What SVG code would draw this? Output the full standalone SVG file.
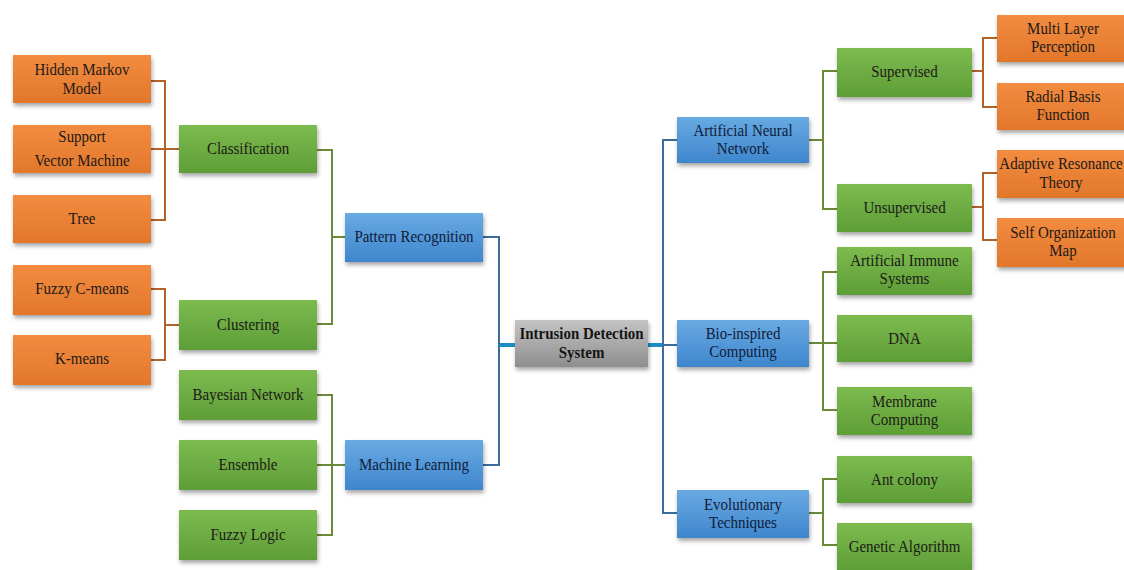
<svg xmlns="http://www.w3.org/2000/svg" width="1124" height="570" viewBox="0 0 1124 570">
<defs>
<linearGradient id="gO" x1="0" y1="0" x2="0" y2="1"><stop offset="0" stop-color="#F28C40"/><stop offset="1" stop-color="#E2772B"/></linearGradient>
<linearGradient id="gG" x1="0" y1="0" x2="0" y2="1"><stop offset="0" stop-color="#7DBB4F"/><stop offset="1" stop-color="#5E9E37"/></linearGradient>
<linearGradient id="gB" x1="0" y1="0" x2="0" y2="1"><stop offset="0" stop-color="#68AAE2"/><stop offset="1" stop-color="#3F86CD"/></linearGradient>
<linearGradient id="gS" x1="0" y1="0" x2="0" y2="1"><stop offset="0" stop-color="#C4C4C4"/><stop offset="1" stop-color="#8E8E8E"/></linearGradient>
<filter id="sh" x="-10%" y="-10%" width="125%" height="140%"><feDropShadow dx="1" dy="3" stdDeviation="2" flood-color="#000" flood-opacity="0.35"/></filter>
</defs>
<style>
.o{fill:url(#gO);filter:url(#sh)}
.g{fill:url(#gG);filter:url(#sh)}
.b{fill:url(#gB);filter:url(#sh)}
.s{fill:url(#gS);filter:url(#sh)}
.t text{font-size:17px;fill:#1c1a17;text-anchor:middle}
.t .bt{fill:#101c3a}
.t .bold{font-weight:bold;fill:#141414}
.co{fill:none;stroke:#B0622A;stroke-width:2}
.cg{fill:none;stroke:#6A8A3A;stroke-width:2}
.cb{fill:none;stroke:#3B6C9C;stroke-width:2}
.ct{fill:none;stroke:#1A8EC4;stroke-width:4}
</style>
<rect width="1124" height="570" fill="#fff"/>
<g id="connectors">
<path class="co" d="M151,81H165V220H151M151,149H179"/>
<path class="co" d="M151,289H165V360H151M165,325H179"/>
<path class="cg" d="M317,150H332V324H317M332,237H345"/>
<path class="cg" d="M317,395H332V535H317M317,465H345"/>
<path class="cb" d="M483,237H499V465H483"/>
<path class="ct" d="M499,345H515"/>
<path class="ct" d="M648,345H663"/>
<path class="cb" d="M677,140H663V513H677M663,345H677"/>
<path class="cg" d="M809,140H823M837,71H823V209H837"/>
<path class="cg" d="M809,343H837M837,272H823V410H837"/>
<path class="cg" d="M809,513H823M837,479H823V545H837"/>
<path class="co" d="M972,71H983M997,38H983V107H997"/>
<path class="co" d="M972,207H983M997,173H983V240H997"/>
</g>
<g class="t" font-family="'Liberation Serif', 'Times New Roman', 'DejaVu Serif', serif">
<g id="n-hmm"><rect class="o" x="13" y="55" width="138" height="48"/><text transform="translate(82 75) scale(0.88 1)">Hidden Markov</text><text transform="translate(82 94) scale(0.88 1)">Model</text></g>
<g id="n-svm"><rect class="o" x="13" y="125" width="138" height="48"/><text transform="translate(82 142) scale(0.88 1)">Support</text><text transform="translate(82 166) scale(0.88 1)">Vector Machine</text></g>
<g id="n-tree"><rect class="o" x="13" y="195" width="138" height="48"/><text transform="translate(82 224) scale(0.88 1)">Tree</text></g>
<g id="n-fcm"><rect class="o" x="13" y="265" width="138" height="50"/><text transform="translate(82 294) scale(0.88 1)">Fuzzy C-means</text></g>
<g id="n-km"><rect class="o" x="13" y="335" width="138" height="50"/><text transform="translate(82 364) scale(0.88 1)">K-means</text></g>
<g id="n-class"><rect class="g" x="179" y="125" width="138" height="48"/><text transform="translate(248 154) scale(0.88 1)">Classification</text></g>
<g id="n-clust"><rect class="g" x="179" y="300" width="138" height="50"/><text transform="translate(248 330) scale(0.88 1)">Clustering</text></g>
<g id="n-bayes"><rect class="g" x="179" y="370" width="138" height="50"/><text transform="translate(248 400) scale(0.88 1)">Bayesian Network</text></g>
<g id="n-ens"><rect class="g" x="179" y="440" width="138" height="50"/><text transform="translate(248 470) scale(0.88 1)">Ensemble</text></g>
<g id="n-fl"><rect class="g" x="179" y="510" width="138" height="50"/><text transform="translate(248 540) scale(0.88 1)">Fuzzy Logic</text></g>
<g id="n-pr"><rect class="b" x="345" y="213" width="138" height="49"/><text class="bt" transform="translate(414 242) scale(0.88 1)">Pattern Recognition</text></g>
<g id="n-ml"><rect class="b" x="345" y="440" width="138" height="50"/><text class="bt" transform="translate(414 470) scale(0.88 1)">Machine Learning</text></g>
<g id="n-ids"><rect class="s" x="515" y="320" width="133" height="47"/><text class="bold" transform="translate(581.5 339) scale(0.88 1)">Intrusion Detection</text><text class="bold" transform="translate(581.5 358) scale(0.88 1)">System</text></g>
<g id="n-ann"><rect class="b" x="677" y="117" width="132" height="46"/><text class="bt" transform="translate(743 136) scale(0.88 1)">Artificial Neural</text><text class="bt" transform="translate(743 154) scale(0.88 1)">Network</text></g>
<g id="n-bio"><rect class="b" x="677" y="320" width="132" height="47"/><text class="bt" transform="translate(743 339) scale(0.88 1)">Bio-inspired</text><text class="bt" transform="translate(743 357) scale(0.88 1)">Computing</text></g>
<g id="n-evo"><rect class="b" x="677" y="490" width="132" height="48"/><text class="bt" transform="translate(743 510) scale(0.88 1)">Evolutionary</text><text class="bt" transform="translate(743 528) scale(0.88 1)">Techniques</text></g>
<g id="n-sup"><rect class="g" x="837" y="48" width="135" height="49"/><text transform="translate(904.5 77) scale(0.88 1)">Supervised</text></g>
<g id="n-unsup"><rect class="g" x="837" y="184" width="135" height="48"/><text transform="translate(904.5 213) scale(0.88 1)">Unsupervised</text></g>
<g id="n-ais"><rect class="g" x="837" y="247" width="135" height="48"/><text transform="translate(904.5 266) scale(0.88 1)">Artificial Immune</text><text transform="translate(904.5 284) scale(0.88 1)">Systems</text></g>
<g id="n-dna"><rect class="g" x="837" y="315" width="135" height="47"/><text transform="translate(904.5 344) scale(0.88 1)">DNA</text></g>
<g id="n-mem"><rect class="g" x="837" y="387" width="135" height="48"/><text transform="translate(904.5 407) scale(0.88 1)">Membrane</text><text transform="translate(904.5 425) scale(0.88 1)">Computing</text></g>
<g id="n-ant"><rect class="g" x="837" y="456" width="135" height="47"/><text transform="translate(904.5 485) scale(0.88 1)">Ant colony</text></g>
<g id="n-ga"><rect class="g" x="837" y="523" width="135" height="47"/><text transform="translate(904.5 552) scale(0.88 1)">Genetic Algorithm</text></g>
<g id="n-mlp"><rect class="o" x="997" y="15" width="135" height="47"/><text transform="translate(1063 34) scale(0.88 1)">Multi Layer</text><text transform="translate(1063 52) scale(0.88 1)">Perception</text></g>
<g id="n-rbf"><rect class="o" x="997" y="83" width="135" height="47"/><text transform="translate(1063 102) scale(0.88 1)">Radial Basis</text><text transform="translate(1063 120) scale(0.88 1)">Function</text></g>
<g id="n-art"><rect class="o" x="997" y="150" width="135" height="48"/><text transform="translate(1061 169) scale(0.88 1)">Adaptive Resonance</text><text transform="translate(1061 188) scale(0.88 1)">Theory</text></g>
<g id="n-som"><rect class="o" x="997" y="218" width="135" height="49"/><text transform="translate(1063 238) scale(0.88 1)">Self Organization</text><text transform="translate(1063 256) scale(0.88 1)">Map</text></g>
</g>
</svg>
